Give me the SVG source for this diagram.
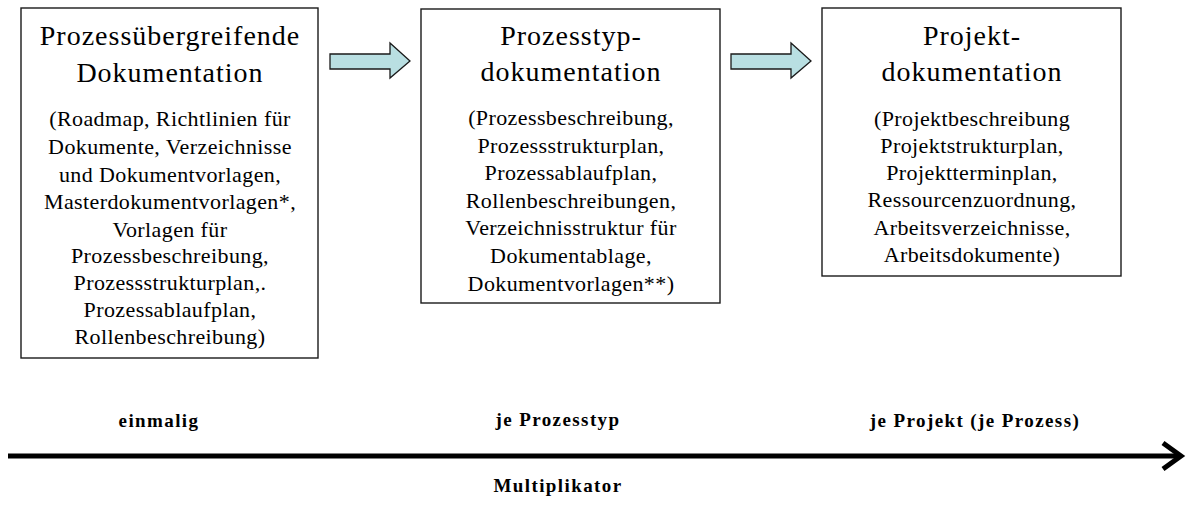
<svg xmlns="http://www.w3.org/2000/svg" width="1186" height="509" viewBox="0 0 1186 509">
  <style>
    text { font-family: "Liberation Serif", "DejaVu Serif", "Times New Roman", serif; fill: #000; text-anchor: middle; }
    .box { fill: #ffffff; stroke: #1a1a1a; stroke-width: 1.4; }
    .title { font-size: 28px; letter-spacing: 1px; }
    .body { font-size: 22px; letter-spacing: 0.4px; }
    .axis-label { font-size: 19px; font-weight: bold; letter-spacing: 1.4px; }
    .block-arrow { fill: #b9dfe2; stroke: #1a1a1a; stroke-width: 1.3; stroke-linejoin: miter; }
    .axis { stroke: #000; stroke-width: 5; fill: none; }
  </style>

  <!-- Cross-process documentation -->
  <g id="node-uebergreifend" font-family="Liberation Serif, serif">
    <rect class="box" x="21" y="8" width="297" height="350"/>
    <text class="title" x="170" y="45">Prozessübergreifende</text>
    <text class="title" x="170" y="82">Dokumentation</text>
    <text class="body" x="170" y="126">(Roadmap, Richtlinien für</text>
    <text class="body" x="170" y="154">Dokumente, Verzeichnisse</text>
    <text class="body" x="170" y="182">und Dokumentvorlagen,</text>
    <text class="body" x="170" y="209">Masterdokumentvorlagen*,</text>
    <text class="body" x="170" y="237">Vorlagen für</text>
    <text class="body" x="170" y="263">Prozessbeschreibung,</text>
    <text class="body" x="170" y="290">Prozessstrukturplan,.</text>
    <text class="body" x="170" y="317">Prozessablaufplan,</text>
    <text class="body" x="170" y="344">Rollenbeschreibung)</text>
  </g>

  <!-- Process type documentation -->
  <g id="node-prozesstyp">
    <rect class="box" x="421" y="9" width="299" height="294"/>
    <text class="title" x="571" y="45">Prozesstyp-</text>
    <text class="title" x="571" y="81">dokumentation</text>
    <text class="body" x="571" y="125">(Prozessbeschreibung,</text>
    <text class="body" x="571" y="153">Prozessstrukturplan,</text>
    <text class="body" x="571" y="180">Prozessablaufplan,</text>
    <text class="body" x="571" y="208">Rollenbeschreibungen,</text>
    <text class="body" x="571" y="235">Verzeichnisstruktur für</text>
    <text class="body" x="571" y="263">Dokumentablage,</text>
    <text class="body" x="571" y="291">Dokumentvorlagen**)</text>
  </g>

  <!-- Project documentation -->
  <g id="node-projekt">
    <rect class="box" x="822" y="8" width="299" height="268"/>
    <text class="title" x="972" y="45">Projekt-</text>
    <text class="title" x="972" y="81">dokumentation</text>
    <text class="body" x="972" y="126">(Projektbeschreibung</text>
    <text class="body" x="972" y="153">Projektstrukturplan,</text>
    <text class="body" x="972" y="180">Projektterminplan,</text>
    <text class="body" x="972" y="207">Ressourcenzuordnung,</text>
    <text class="body" x="972" y="235">Arbeitsverzeichnisse,</text>
    <text class="body" x="972" y="262">Arbeitsdokumente)</text>
  </g>

  <!-- Block arrows between the stages -->
  <g id="connectors">
    <path class="block-arrow" d="M330,54 H390 V43 L410,61 L390,78 V69 H330 Z"/>
    <path class="block-arrow" d="M731,54 H791 V43 L811,61 L791,78 V69 H731 Z"/>
  </g>

  <!-- Multiplier axis -->
  <g id="axis">
    <line class="axis" x1="8" y1="456" x2="1180" y2="456"/>
    <polyline class="axis" points="1163,443 1181,456 1163,469"/>
  </g>

  <g id="axis-labels">
    <text class="axis-label" x="159" y="427">einmalig</text>
    <text class="axis-label" x="558" y="426">je Prozesstyp</text>
    <text class="axis-label" x="975" y="427">je Projekt (je Prozess)</text>
    <text class="axis-label" x="558" y="492">Multiplikator</text>
  </g>
</svg>
